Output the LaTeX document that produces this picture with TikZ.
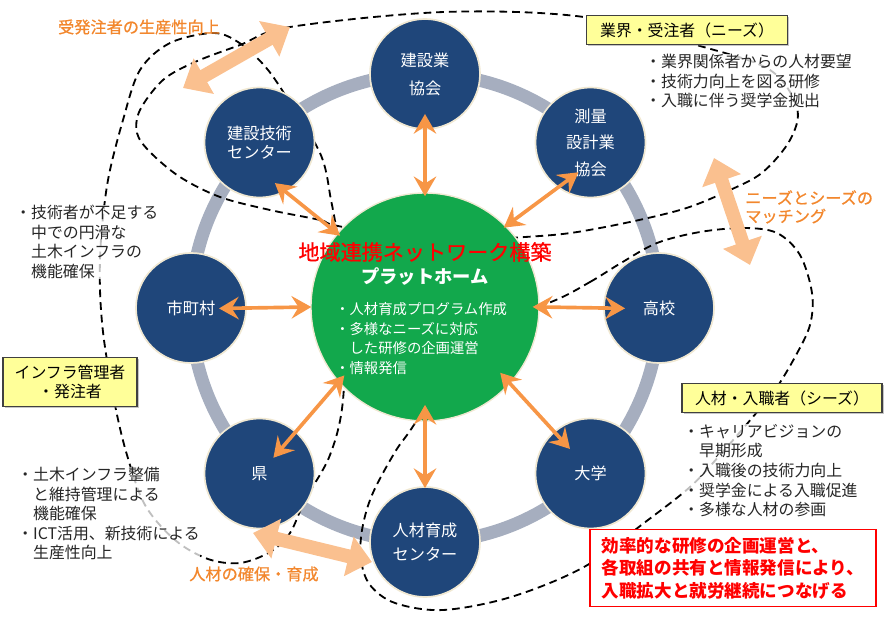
\documentclass[tikz,border=0pt]{standalone}
\usepackage{fontspec}
\setmainfont{Noto Sans CJK JP}
\newfontfamily\medfont{Noto Sans CJK JP}[FakeBold=0.8]
\usetikzlibrary{arrows.meta,shadows}

\definecolor{navy}{RGB}{31,70,122}
\definecolor{ringgray}{RGB}{166,174,191}
\definecolor{hubgreen}{RGB}{18,168,76}
\definecolor{arroworange}{RGB}{247,150,70}
\definecolor{peach}{RGB}{250,192,143}
\definecolor{labelorange}{RGB}{242,135,45}
\definecolor{cream}{RGB}{240,232,210}
\definecolor{boxyellow}{RGB}{255,255,153}

\begin{document}
\begin{tikzpicture}[x=0.025cm, y=-0.025cm,
  sat/.style={circle, fill=navy, draw=cream, line width=1.2pt, minimum size=2.75cm, inner sep=0pt, text=white, align=center},
  hubnode/.style={circle, fill=hubgreen, draw=cream, line width=1pt, minimum size=5.7cm, inner sep=0pt},
  link/.style={arroworange, line width=2.6pt, {Stealth[length=14pt,width=16pt,inset=5pt]}-{Stealth[length=14pt,width=16pt,inset=5pt]}},
  bigarrow/.style={peach, line width=9.8pt, {Triangle[length=17pt,width=28pt]}-{Triangle[length=17pt,width=28pt]}},
  zone/.style={line width=1.3pt, dash pattern=on 5.5pt off 3.5pt},
  tagbox/.style={rectangle, fill=boxyellow, draw=black!75, line width=0.8pt, drop shadow={shadow xshift=1.2pt, shadow yshift=-1.2pt, opacity=0.45}, inner sep=0pt, align=center, font=\fontsize{11.3}{13.5}\selectfont},
  note/.style={anchor=north west, inner sep=0pt, align=left, text=black!85, fill=white, fill opacity=0.75, text opacity=1, font=\fontsize{11.3}{13.9}\selectfont},
  orangelabel/.style={text=labelorange, inner sep=0pt, align=left, font=\medfont\fontsize{11.5}{13}\selectfont}
]
  \useasboundingbox (0,0) rectangle (888,623);

  % gray ring behind the member circles
  \draw[ringgray, line width=9.2pt] (425,308) circle [radius=5.85cm];

  % dashed group outlines
  \draw[zone] plot[smooth cycle, tension=0.55] coordinates {
    (338,226) (320,220) (270,210) (220,197) (180,177) (150,152) (137,133)
    (140,110) (163,80) (195,62) (240,45) (290,27) (444,12) (584,17) (700,46)
    (770,70) (797,108) (790,140) (763,172) (730,190) (680,210) (600,228)
    (540,236) (425,240)};
  \draw[zone] plot[smooth cycle, tension=0.55] coordinates {
    (213,33) (238,42) (262,63) (282,90) (320,153) (331,200) (338,240) (345,300)
    (343,400) (330,455) (305,500) (290,533) (270,552) (240,563) (208,559)
    (175,540) (145,505) (127,455) (115,405) (104,340) (100,290) (101,240)
    (108,180) (123,120) (140,70) (170,43)};
  \draw[zone] plot[smooth cycle, tension=0.55] coordinates {
    (551,302) (590,282) (621,263) (657,243) (700,232) (744,228) (777,233)
    (800,255) (812,293) (810,325) (795,357) (775,390) (752,418) (720,455)
    (690,487) (644,523) (584,567) (511,597) (443,610) (395,603) (370,585)
    (361,560) (362,530) (372,495) (395,452) (417,420) (470,330)};

  % notes
  \node[note] (needsnote) at (645,54) {・業界関係者からの人材要望\\・技術力向上を図る研修\\・入職に伴う奨学金拠出};
  \node[note] (infranote) at (15,205) {・技術者が不足する\\　中での円滑な\\　土木インフラの\\　機能確保};
  \node[note] (ownernote) at (17,467) {・土木インフラ整備\\　と維持管理による\\　機能確保\\・ICT活用、新技術による\\　生産性向上};
  \node[note] (seedsnote) at (683,424) {・キャリアビジョンの\\　早期形成\\・入職後の技術力向上\\・奨学金による入職促進\\・多様な人材の参画};

  % member circles
  \node[sat, font=\fontsize{11.5}{19.8}\selectfont] (gyokai) at (425,74) {建設業\\協会};
  \node[sat, font=\fontsize{11.5}{18.8}\selectfont] (survey) at (590.5,142.5) {測量\\設計業\\協会};
  \node[sat, font=\fontsize{11.5}{13.5}\selectfont] (school) at (659,308) {高校};
  \node[sat, font=\fontsize{11.5}{13.5}\selectfont] (univ) at (590.5,473.5) {大学};
  \node[sat, font=\fontsize{11.5}{17.7}\selectfont] (trainctr) at (425,542) {人材育成\\センター};
  \node[sat, font=\fontsize{11.5}{13.5}\selectfont] (pref) at (259.5,473.5) {県};
  \node[sat, font=\fontsize{11.5}{13.5}\selectfont] (city) at (191,308) {市町村};
  \node[sat, font=\fontsize{11.5}{13.5}\selectfont] (engctr) at (259.5,142.5) {建設技術\\センター};

  % platform in the middle
  \node[hubnode] (hub) at (425,307) {};
  \node[text=red, inner sep=0pt, font=\medfont\fontsize{15}{18}\selectfont] (hubtitle) at (425,252) {地域連携ネットワーク構築};
  \node[text=white, inner sep=0pt, font=\bfseries\fontsize{13}{16}\selectfont] (hubname) at (425,277) {プラットホーム};
  \node[text=white, anchor=north west, inner sep=0pt, align=left, font=\fontsize{10.2}{14}\selectfont] (hubtasks) at (335,302)
    {・人材育成プログラム作成\\・多様なニーズに対応\\　した研修の企画運営\\・情報発信};

  % links between platform and members
  \draw[link, shorten <=-2.8pt, shorten >=-11.3pt] (hub.90) -- (gyokai.-90);
  \draw[link, shorten <=-2.1pt, shorten >=-18.4pt] (hub.45) -- (survey.-126);
  \draw[link, shorten <=-5pt, shorten >=-15.6pt] (hub.0) -- (school.180);
  \draw[link, shorten <=-10.6pt, shorten >=-17pt] (hub.-42) -- (univ.131);
  \draw[link, shorten <=-12pt, shorten >=-1.4pt] (hub.-90) -- (trainctr.90);
  \draw[link, shorten <=-6.4pt, shorten >=-24.8pt] (hub.-139) -- (pref.49);
  \draw[link, shorten <=-0.7pt, shorten >=-19.8pt] (hub.180) -- (city.0);
  \draw[link, shorten <=-2.8pt, shorten >=-9.9pt] (hub.140) -- (engctr.-62);

  % wide arrows between groups
  \coordinate (prodA) at (183,88);
  \coordinate (prodB) at (290,27);
  \coordinate (matchA) at (714,158);
  \coordinate (matchB) at (750,265);
  \coordinate (talentA) at (253,533);
  \coordinate (talentB) at (372,562);
  \draw[bigarrow] (prodA) -- (prodB);
  \draw[bigarrow] (matchA) -- (matchB);
  \draw[bigarrow] (talentA) -- (talentB);

  % group tags
  \node[tagbox, minimum width=5.02cm, minimum height=0.74cm] (needs) at (687,30) {業界・受注者（ニーズ）};
  \node[tagbox, minimum width=3.35cm, minimum height=1.22cm] (infra) at (70,382) {インフラ管理者\\・発注者};
  \node[tagbox, minimum width=5cm, minimum height=0.72cm] (seeds) at (782,398) {人材・入職者（シーズ）};

  % orange captions
  \node[orangelabel] (prodlabel) at (139,27) {受発注者の生産性向上};
  \node[orangelabel, anchor=north west] (matchlabel) at (745,190) {ニーズとシーズの\\マッチング};
  \node[orangelabel] (talentlabel) at (254,574) {人材の確保・育成};

  % goal box
  \node[draw=red, line width=1pt, fill=white, minimum width=7.15cm, minimum height=1.92cm, inner sep=0pt, align=left, text=red, font=\bfseries\fontsize{12.5}{16}\selectfont] (goal) at (733,568)
    {効率的な研修の企画運営と、\\各取組の共有と情報発信により、\\入職拡大と就労継続につなげる};
\end{tikzpicture}
\end{document}
